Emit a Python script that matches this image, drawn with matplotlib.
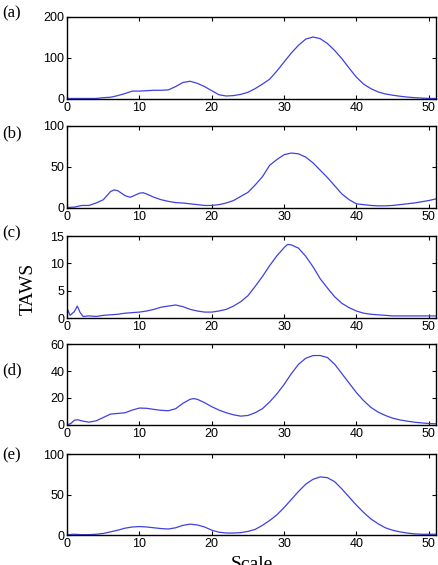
import numpy as np
import matplotlib.pyplot as plt

# Scale values and TAWS curves
x_a = [0, 2, 4, 5, 6, 7, 8, 9, 10, 11, 12, 13, 14, 15, 16, 17, 18, 19, 20, 21, 22, 23, 24, 25,
       26, 27, 28, 29, 30, 31, 32, 33, 34, 35, 36, 37, 38, 39, 40, 41, 42, 43, 44, 45, 46, 47,
       48, 49, 50, 51]
y_a = [1, 1, 1, 3, 4, 8, 13, 19, 19, 20, 21, 21, 22, 30, 40, 43, 38, 30, 20, 10, 7, 8, 11, 16,
       25, 36, 48, 68, 90, 112, 131, 146, 151, 147, 135, 118, 98, 75, 53, 36, 25, 17, 12, 9,
       6.5, 4.5, 3, 2, 1, 1]

x_b = [0, 1, 2, 3, 4, 5, 6, 6.5, 7, 8, 8.7, 9, 10, 10.5, 11, 12, 13, 14, 15, 16, 17, 18, 19, 20,
       21, 22, 23, 24, 25, 26, 27, 28, 29, 30, 31, 32, 33, 34, 35, 36, 37, 38, 39, 40, 41, 42,
       43, 44, 45, 46, 47, 48, 49, 50, 51]
y_b = [0.5, 1, 3, 3, 6, 10, 20, 22, 21, 15, 13, 14, 18, 18.5, 17, 13, 10, 8, 6.5, 6, 5, 4, 3, 3,
       4, 6, 9, 14, 19, 28, 38, 52, 59, 65, 67, 66, 62, 55, 46, 37, 27, 17, 10, 5, 4, 3,
       2.5, 2.5, 3, 4, 5, 6, 7.5, 9, 11]

x_c = [0, 0.1, 0.4, 1, 1.4, 1.8, 2.2, 3, 4, 5, 6, 7, 8, 9, 10, 11, 12, 13, 14, 15, 16, 17, 18,
       19, 20, 21, 22, 23, 24, 25, 26, 27, 28, 29, 30, 30.5, 31, 32, 33, 34, 35, 36, 37, 38,
       39, 40, 41, 42, 43, 44, 45, 46, 48, 51]
y_c = [0.3, 1.5, 0.5, 1.2, 2.2, 1.0, 0.3, 0.4, 0.3, 0.5, 0.6, 0.7, 0.9, 1.0, 1.1, 1.3, 1.6, 2.0,
       2.2, 2.4, 2.1, 1.6, 1.3, 1.1, 1.1, 1.3, 1.6, 2.2, 3.0, 4.1, 5.8, 7.6, 9.6, 11.4, 12.9,
       13.5, 13.4, 12.8, 11.3, 9.4, 7.2, 5.5, 3.9, 2.7, 1.9, 1.3, 0.9, 0.7, 0.6, 0.5, 0.4, 0.4,
       0.4, 0.4]

x_d = [0, 0.5, 1, 1.5, 2, 3, 4, 5, 6, 7, 8, 9, 10, 11, 12, 13, 14, 15, 16, 17, 17.5, 18, 19, 20,
       21, 22, 23, 24, 25, 26, 27, 28, 29, 30, 31, 32, 33, 34, 35, 36, 37, 38, 39, 40, 41, 42,
       43, 44, 45, 46, 47, 48, 49, 50, 51]
y_d = [0, 1, 3.5, 3.8, 3, 2, 3, 5.5, 8, 8.5, 9, 11, 12.5, 12.3, 11.5, 10.8, 10.5, 12, 16, 19,
       19.5, 19, 16.5, 13.5, 11, 9, 7.5, 6.5, 7, 9, 12, 17, 23, 30, 38, 45, 49.5, 51.5, 51.5,
       50, 45, 38, 31, 24, 18, 13, 9.5, 7, 5, 3.7, 2.8, 2, 1.5, 1, 0.8]

x_e = [0, 1, 2, 3, 4, 5, 6, 7, 8, 9, 10, 11, 12, 13, 14, 15, 16, 17, 18, 19, 20, 21, 22, 23, 24,
       25, 26, 27, 28, 29, 30, 31, 32, 33, 34, 35, 36, 37, 38, 39, 40, 41, 42, 43, 44, 45, 46,
       47, 48, 49, 50, 51]
y_e = [0.5, 1, 0.5, 0.5, 1, 2, 4, 6, 8.5, 10, 10.5, 10, 9, 8, 7.5, 9, 12, 13.5, 12.5, 10, 6, 3.5,
       2.5, 2.5, 3, 4.5, 7, 12, 18, 25, 34, 44, 54, 63, 69, 72, 71, 66, 57, 47, 37, 28, 20, 14,
       9, 6, 4, 2.5, 1.5, 1, 1, 1]

panels = ['(a)', '(b)', '(c)', '(d)', '(e)']
ylims = [200, 100, 15, 60, 100]
yticks = [[0, 100, 200], [0, 50, 100], [0, 5, 10, 15], [0, 20, 40, 60], [0, 50, 100]]
xticks = [0, 10, 20, 30, 40, 50]

fig = plt.figure(figsize=(4.39, 5.65), dpi=100)
plt.rcParams['font.family'] = ['Liberation Sans', 'DejaVu Sans']

# axes boxes in figure fraction: top/bottom from the reference
boxes = [(0.825, 0.970), (0.632, 0.777), (0.437, 0.582), (0.248, 0.391), (0.053, 0.196)]
label_y = [13, 133, 233, 370, 455]
data = [(x_a, y_a), (x_b, y_b), (x_c, y_c), (x_d, y_d), (x_e, y_e)]

for i, (xs, ys) in enumerate(data):
    b, t = boxes[i]
    ax = fig.add_axes([0.153, b, 0.840, t - b])
    ax.plot(xs, ys, color='#4040e0', lw=0.9)
    ax.set_xlim(0, 51)
    ax.set_ylim(0, ylims[i])
    ax.set_xticks(xticks)
    ax.set_yticks(yticks[i])
    ax.tick_params(direction='in', top=True, right=True, length=3, labelsize=9, pad=2)
    for s in ax.spines.values():
        s.set_linewidth(1.0)
    fig.text(0.005, 1 - label_y[i] / 565, panels[i], family='Liberation Serif',
             fontsize=12, va='center', ha='left')

fig.text(28 / 439, 1 - 289 / 565, 'TAWS', family='Liberation Serif', fontsize=14,
         rotation=90, va='center', ha='center')
# the reference crops this label at the bottom edge
fig.text(252 / 439, 1 - 556 / 565, 'Scale', family='Liberation Serif', fontsize=14,
         va='top', ha='center')

fig.savefig('out.png', dpi=100)
